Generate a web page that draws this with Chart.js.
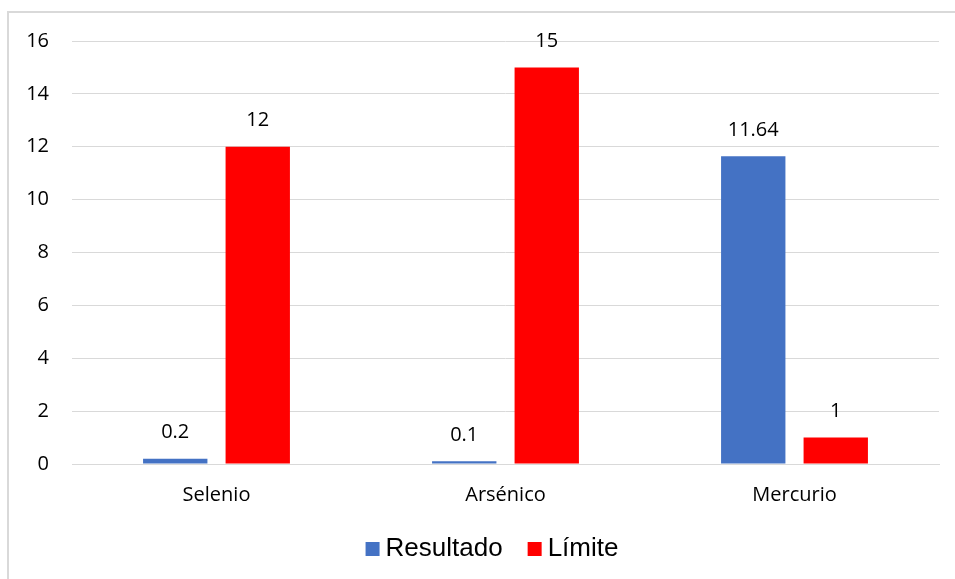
<!DOCTYPE html>
<html>
<head>
<meta charset="utf-8">
<script src="https://cdn.jsdelivr.net/npm/chart.js@4.4.1/dist/chart.umd.min.js"></script>
<style>
  html, body { margin: 0; padding: 0; background: #fff; overflow: hidden; }
  #wrap { position: relative; width: 955px; height: 579px; }
  #c { position: absolute; left: 0; top: 0; }
  #frame { position: absolute; left: 7px; top: 11px; width: 1000px; height: 700px;
           border: 2px solid #d9d9d9; box-sizing: border-box; pointer-events: none; }
</style>
</head>
<body>
<div id="wrap">
  <canvas id="c" width="955" height="579"></canvas>
  <div id="frame"></div>
</div>
<script>
const categories = ["Selenio", "Arsénico", "Mercurio"];
const resultado = [0.2, 0.1, 11.64];
const limite = [12, 15, 1];
const seriesNames = ["Resultado", "Límite"];
const yTicks = [0, 2, 4, 6, 8, 10, 12, 14, 16];

const FONT = "'Open Sans', 'Noto Sans', sans-serif";
const LEGEND_FONT = "26px 'Liberation Sans', Arial, sans-serif";

const valueLabels = {
  id: 'valueLabels',
  afterDatasetsDraw(chart) {
    const ctx = chart.ctx;
    ctx.save();
    ctx.font = "20px " + FONT;
    ctx.fillStyle = '#000';
    ctx.textAlign = 'center';
    ctx.textBaseline = 'middle';
    chart.data.datasets.forEach((ds, i) => {
      const meta = chart.getDatasetMeta(i);
      meta.data.forEach((bar, j) => {
        ctx.fillText(String(ds.data[j]), bar.x, bar.y - 26);
      });
    });
    ctx.restore();
  }
};

// Compact legend drawn from the datasets (box, small gap, text)
const compactLegend = {
  id: 'compactLegend',
  afterDraw(chart) {
    const ctx = chart.ctx;
    ctx.save();
    ctx.font = LEGEND_FONT;
    ctx.textBaseline = 'middle';
    ctx.textAlign = 'left';
    const box = 14, gap = 6, itemGap = 25;
    const items = chart.data.datasets.map(ds => ({
      text: ds.label, color: ds.backgroundColor, w: ctx.measureText(ds.label).width
    }));
    let total = 0;
    items.forEach((it, i) => { total += box + gap + it.w + (i ? itemGap : 0); });
    const cx = 492, cy = 549;
    let x = cx - total / 2;
    items.forEach((it, i) => {
      if (i) x += itemGap;
      ctx.fillStyle = it.color;
      ctx.fillRect(x, cy - 7, box, box);
      x += box + gap;
      ctx.fillStyle = '#000';
      ctx.fillText(it.text, x, cy);
      x += it.w;
    });
    ctx.restore();
  }
};

new Chart(document.getElementById('c'), {
  type: 'bar',
  data: {
    labels: categories,
    datasets: [
      { label: seriesNames[0], data: resultado, backgroundColor: '#4472C4', borderWidth: 0 },
      { label: seriesNames[1], data: limite, backgroundColor: '#FF0000', borderWidth: 0 }
    ]
  },
  options: {
    responsive: false,
    animation: false,
    devicePixelRatio: 1,
    layout: { padding: { left: 10, top: 41, right: 16, bottom: 52 } },
    datasets: { bar: { categoryPercentage: 0.571, barPercentage: 0.78 } },
    plugins: {
      tooltip: { enabled: false },
      legend: { display: false }
    },
    scales: {
      x: {
        grid: { display: false, drawTicks: false },
        border: { display: true, color: '#d9d9d9', width: 1 },
        ticks: { font: { family: FONT, size: 20 }, color: '#000', padding: 19 },
        afterFit(scale) { scale.height = 63; }
      },
      y: {
        min: 0, max: 16,
        afterBuildTicks(scale) { scale.ticks = yTicks.map(v => ({ value: v })); },
        grid: { color: '#d9d9d9', lineWidth: 1, drawTicks: false },
        border: { display: false },
        ticks: { font: { family: FONT, size: 20 }, color: '#000', padding: 23 },
        afterFit(scale) { scale.width = 62; }
      }
    }
  },
  plugins: [valueLabels, compactLegend]
});
</script>
</body>
</html>
